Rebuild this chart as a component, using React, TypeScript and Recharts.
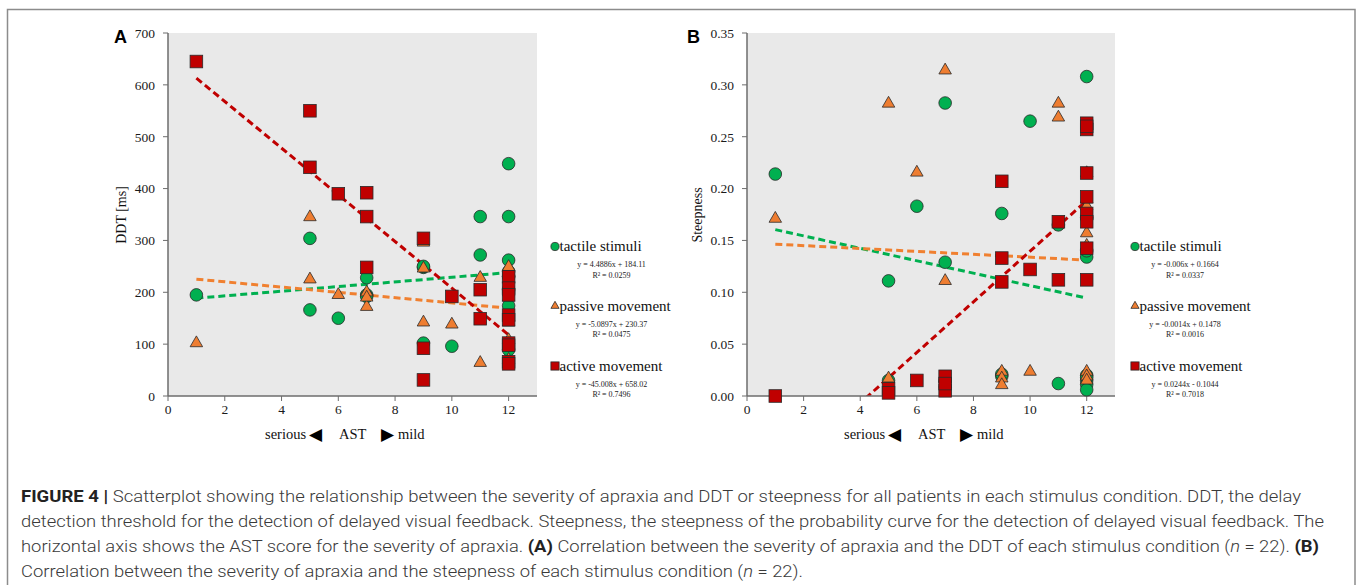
import React from "react";
import { ScatterChart, Scatter, XAxis, YAxis, CartesianGrid, ReferenceLine } from "recharts";

// ---------- data ----------
const astTicks = [0, 2, 4, 6, 8, 10, 12];
const ddtTicks = [0, 100, 200, 300, 400, 500, 600, 700];
const steepTicks = [0, 0.05, 0.1, 0.15, 0.2, 0.25, 0.3, 0.35];
const seriesNames = ["tactile stimuli", "passive movement", "active movement"];

// Panel A: AST score vs DDT [ms]
const tactileDDT: [number, number][] = [
  [1, 195], [5, 304], [5, 166], [6, 150], [7, 228], [7, 195], [7, 192], [9, 248], [9, 102], [9, 250],
  [10, 96], [11, 346], [11, 272], [12, 448], [12, 346], [12, 262], [12, 174], [12, 89], [12, 230],
  [12, 205], [12, 240], [12, 231],
];
const passiveDDT: [number, number][] = [
  [1, 102], [5, 345], [5, 225], [6, 195], [7, 200], [7, 172], [7, 190], [9, 296], [9, 246], [9, 142],
  [10, 138], [11, 228], [11, 64], [12, 249], [12, 215], [12, 200], [12, 190], [12, 152], [12, 142],
  [12, 108], [12, 95], [12, 70],
];
const activeDDT: [number, number][] = [
  [1, 645], [5, 550], [5, 441], [6, 390], [7, 392], [7, 346], [7, 248], [9, 304], [9, 92], [9, 31],
  [10, 192], [11, 205], [11, 149], [12, 230], [12, 208], [12, 195], [12, 156], [12, 147], [12, 102],
  [12, 98], [12, 66], [12, 62],
];

// Panel B: AST score vs steepness
const tactileSteep: [number, number][] = [
  [1, 0.214], [5, 0.111], [5, 0.015], [6, 0.183], [7, 0.2825], [7, 0.129], [7, 0.014], [9, 0.176],
  [9, 0.019], [9, 0.021], [10, 0.265], [11, 0.012], [11, 0.165], [12, 0.308], [12, 0.134], [12, 0.02],
  [12, 0.015], [12, 0.011], [12, 0.006], [12, 0.172], [12, 0.14], [12, 0.018],
];
const passiveSteep: [number, number][] = [
  [1, 0.171], [5, 0.282], [5, 0.017], [6, 0.2155], [7, 0.314], [7, 0.111], [7, 0.012], [9, 0.0235],
  [9, 0.017], [9, 0.0106], [10, 0.0235], [11, 0.282], [11, 0.2686], [12, 0.183], [12, 0.157],
  [12, 0.0235], [12, 0.019], [12, 0.26], [12, 0.215], [12, 0.19], [12, 0.145], [12, 0.015],
];
const activeSteep: [number, number][] = [
  [1, 0.0], [5, 0.007], [5, 0.003], [6, 0.015], [7, 0.019], [7, 0.005], [7, 0.012], [9, 0.207],
  [9, 0.133], [9, 0.11], [10, 0.122], [11, 0.168], [11, 0.112], [12, 0.263], [12, 0.257], [12, 0.215],
  [12, 0.192], [12, 0.176], [12, 0.168], [12, 0.1425], [12, 0.112], [12, 0.26],
];

// Linear trend lines (as printed in the legends)
const trendRange = [1, 12];
const trendDDT = [
  { slope: 4.4886, intercept: 184.11 },
  { slope: -5.0897, intercept: 230.37 },
  { slope: -45.008, intercept: 658.02 },
];
const eqDDT = ["y = 4.4886x + 184.11", "y = -5.0897x + 230.37", "y = -45.008x + 658.02"];
const r2DDT = ["R\u00B2 = 0.0259", "R\u00B2 = 0.0475", "R\u00B2 = 0.7496"];
const trendSteep = [
  { slope: -0.006, intercept: 0.1664 },
  { slope: -0.0014, intercept: 0.1478 },
  { slope: 0.0244, intercept: -0.1044 },
];
const eqSteep = ["y = -0.006x + 0.1664", "y = -0.0014x + 0.1478", "y = 0.0244x - 0.1044"];
const r2Steep = ["R\u00B2 = 0.0337", "R\u00B2 = 0.0016", "R\u00B2 = 0.7018"];

const captionLines = [
  [
    { t: "FIGURE 4 | ", b: true },
    { t: "Scatterplot showing the relationship between the severity of apraxia and DDT or steepness for all patients in each stimulus condition. DDT, the delay" },
  ],
  [{ t: "detection threshold for the detection of delayed visual feedback. Steepness, the steepness of the probability curve for the detection of delayed visual feedback. The" }],
  [
    { t: "horizontal axis shows the AST score for the severity of apraxia. " },
    { t: "(A)", b: true },
    { t: " Correlation between the severity of apraxia and the DDT of each stimulus condition (" },
    { t: "n", i: true },
    { t: " = 22). " },
    { t: "(B)", b: true },
  ],
  [
    { t: "Correlation between the severity of apraxia and the steepness of each stimulus condition (" },
    { t: "n", i: true },
    { t: " = 22)." },
  ],
];

// ---------- styles ----------
const COLORS = ["#00b050", "#ee7d31", "#c00000"];
const LINE_COLORS = ["#00b050", "#f08030", "#c00000"];
const KINDS = ["circle", "triangle", "square"];
const SERIF = "'Liberation Serif', 'Times New Roman', serif";
const SANS = "'Liberation Sans', Arial, sans-serif";
const BORDER = "#6d6d6d";

function Marker({ cx, cy, kind, fill, s = 1 }: { cx: number; cy: number; kind: string; fill: string; s?: number }) {
  const stroke = "#2a2a2a";
  const sw = 0.8;
  if (kind === "circle") return <circle cx={cx} cy={cy} r={6.3 * s} fill={fill} stroke={stroke} strokeWidth={sw} />;
  if (kind === "square") {
    const h = 6.3 * s;
    return <rect x={cx - h} y={cy - h} width={2 * h} height={2 * h} fill={fill} stroke={stroke} strokeWidth={sw} />;
  }
  const side = 12.5 * s;
  const ht = side * 0.866;
  const pts = `${cx},${cy - (2 * ht) / 3} ${cx - side / 2},${cy + ht / 3} ${cx + side / 2},${cy + ht / 3}`;
  return <polygon points={pts} fill={fill} stroke={stroke} strokeWidth={sw} />;
}

const tickStyle = { fill: "#1a1a1a", fontSize: 13.5, fontFamily: SERIF };

function Panel({
  left, rightMargin, yWidth, yMax, yTicks, fmt, series, trends,
}: {
  left: number; rightMargin: number; yWidth: number; yMax: number; yTicks: number[];
  fmt: (v: number) => string; series: [number, number][][]; trends: { slope: number; intercept: number }[];
}) {
  return (
    <div style={{ position: "absolute", left, top: 0 }}>
      <ScatterChart width={600} height={460} margin={{ top: 33, right: rightMargin, bottom: 34, left: 0 }}>
        <CartesianGrid fill="#e9e9e9" horizontal={false} vertical={false} stroke="none" />
        <XAxis
          dataKey="x" type="number" domain={[0, 13]} ticks={astTicks} interval={0} height={30}
          tickSize={5} tickMargin={3} axisLine={{ stroke: BORDER, strokeWidth: 1.5 }}
          tickLine={{ stroke: BORDER }} tick={tickStyle}
        />
        <XAxis
          xAxisId="top" orientation="top" type="number" domain={[0, 13]} height={0}
          tick={false} tickLine={false} axisLine={{ stroke: BORDER, strokeWidth: 1.5 }}
        />
        <YAxis
          dataKey="y" type="number" domain={[0, yMax]} ticks={yTicks} interval={0} width={yWidth}
          tickFormatter={fmt} tickSize={5} tickMargin={8} axisLine={{ stroke: BORDER, strokeWidth: 1.5 }}
          tickLine={{ stroke: BORDER }} tick={tickStyle}
        />
        <YAxis
          yAxisId="right" orientation="right" type="number" domain={[0, yMax]} width={0}
          tick={false} tickLine={false} axisLine={{ stroke: BORDER, strokeWidth: 1.5 }}
        />
        {series.map((pts, i) => (
          <Scatter
            key={i}
            name={seriesNames[i]}
            data={pts.map(([x, y]) => ({ x, y }))}
            isAnimationActive={false}
            shape={(p: any) => <Marker cx={p.cx} cy={p.cy} kind={KINDS[i]} fill={COLORS[i]} />}
          />
        ))}
        {trends.map((t, i) => (
          <ReferenceLine
            key={"t" + i}
            segment={[
              { x: trendRange[0], y: t.slope * trendRange[0] + t.intercept },
              { x: trendRange[1], y: t.slope * trendRange[1] + t.intercept },
            ]}
            stroke={LINE_COLORS[i]}
            strokeWidth={3}
            strokeDasharray="7 4"
            ifOverflow="hidden"
          />
        ))}
      </ScatterChart>
    </div>
  );
}

function AxisTitle({ x0 }: { x0: number }) {
  // x0 = left edge of the plot area
  const y = 439;
  const st = { fontFamily: SERIF, fontSize: 14.5, fill: "#111" } as const;
  const sym = { fontFamily: "'DejaVu Sans', sans-serif", fontSize: 17, fill: "#000" } as const;
  return (
    <g>
      <text x={x0 + 97} y={y} {...st}>serious</text>
      <text x={x0 + 141} y={y + 1} {...sym}>{"\u25C0"}</text>
      <text x={x0 + 171} y={y} {...st}>AST</text>
      <text x={x0 + 213} y={y + 1} {...sym}>{"\u25B6"}</text>
      <text x={x0 + 230} y={y} {...st}>mild</text>
    </g>
  );
}

function LegendBlock({ mx, eqx, eqs, r2s }: { mx: number; eqx: number; eqs: string[]; r2s: string[] }) {
  const rows = [246.5, 306, 366];
  return (
    <g>
      {rows.map((ry, i) => (
        <g key={i}>
          <Marker cx={mx} cy={ry} kind={KINDS[i]} fill={COLORS[i]} s={0.65} />
          <text x={mx + 4.5} y={ry + 4.5} fontFamily={SERIF} fontSize={15} fill="#111">{seriesNames[i]}</text>
          <text x={eqx} y={ry + 20.5} textAnchor="middle" fontFamily={SERIF} fontSize={8} fill="#222">{eqs[i]}</text>
          <text x={eqx} y={ry + 31} textAnchor="middle" fontFamily={SERIF} fontSize={8} fill="#222">{r2s[i]}</text>
        </g>
      ))}
    </g>
  );
}

export default function App() {
  const captionY = [502, 527, 552, 577];
  const captionW = [1280, 1303, 1298, 782];
  return (
    <div style={{ position: "absolute", left: 0, top: 0, width: 1357, height: 585, background: "#fff", overflow: "hidden" }}>
      <Panel left={100} rightMargin={163} yWidth={68} yMax={700} yTicks={ddtTicks} fmt={(v) => String(v)}
        series={[tactileDDT, passiveDDT, activeDDT]} trends={trendDDT} />
      <Panel left={680} rightMargin={165} yWidth={67} yMax={0.35} yTicks={steepTicks} fmt={(v) => v.toFixed(2)}
        series={[tactileSteep, passiveSteep, activeSteep]} trends={trendSteep} />
      <svg width={1357} height={585} style={{ position: "absolute", left: 0, top: 0, pointerEvents: "none" }}>
        <path d="M7.5,600 V9.5 H1355 V600" fill="none" stroke="#8c8c8c" strokeWidth={1.5} />
        <text x={114} y={43} fontFamily={SANS} fontWeight="bold" fontSize={18} fill="#000">A</text>
        <text x={687} y={43} fontFamily={SANS} fontWeight="bold" fontSize={18} fill="#000">B</text>
        <text transform="translate(126,215) rotate(-90)" textAnchor="middle" fontFamily={SERIF} fontSize={14} fill="#111">DDT [ms]</text>
        <text transform="translate(702,215) rotate(-90)" textAnchor="middle" fontFamily={SERIF} fontSize={14} fill="#111">Steepness</text>
        <AxisTitle x0={168} />
        <AxisTitle x0={747} />
        <LegendBlock mx={555} eqx={611.5} eqs={eqDDT} r2s={r2DDT} />
        <LegendBlock mx={1135} eqx={1185} eqs={eqSteep} r2s={r2Steep} />
        {captionLines.map((parts, li) => (
          <text key={li} x={21} y={captionY[li]} textLength={captionW[li]} lengthAdjust="spacingAndGlyphs"
            fontFamily="Roboto, 'Liberation Sans', sans-serif" fontWeight={300} fontSize={17} fill="#3a3a3a">
            {parts.map((p: any, k) => (
              <tspan key={k} fontWeight={p.b ? 700 : undefined} fill={p.b ? "#222" : undefined} fontStyle={p.i ? "italic" : undefined}>{p.t}</tspan>
            ))}
          </text>
        ))}
      </svg>
    </div>
  );
}
